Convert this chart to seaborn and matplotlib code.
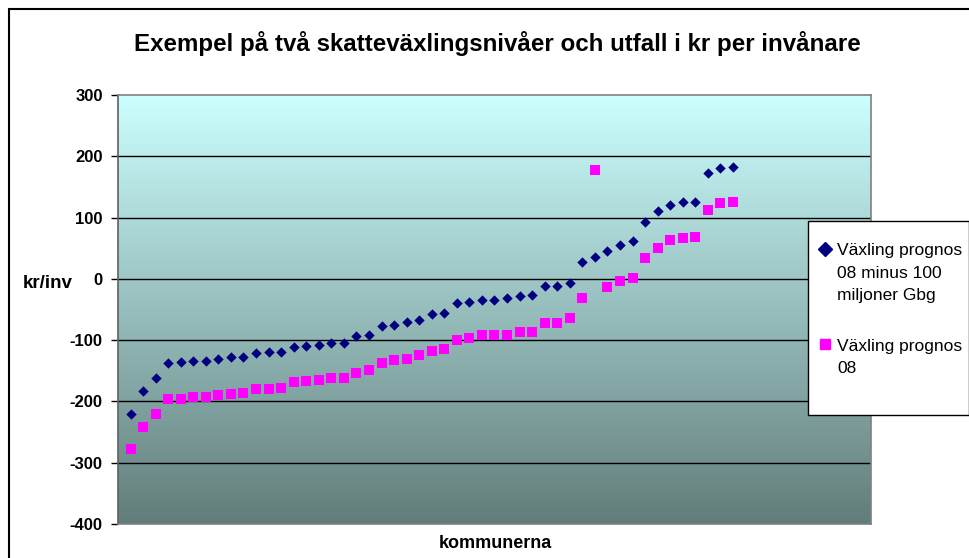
import numpy as np
import matplotlib
matplotlib.use("Agg")
import matplotlib.pyplot as plt
import seaborn as sns
from matplotlib.lines import Line2D
from matplotlib.patches import Rectangle
from matplotlib.colors import LinearSegmentedColormap

# ---------------- data ----------------
title = "Exempel på två skatteväxlingsnivåer och utfall i kr per invånare"
y_label = "kr/inv"
x_label = "kommunerna"
series_names = [["Växling prognos", "08 minus 100", "miljoner Gbg"],
                ["Växling prognos", "08"]]

minus100 = [-220, -183, -161, -138, -136, -134, -134, -130, -128, -128,
            -121, -119, -119, -112, -110, -108, -104, -104, -93, -91,
            -77, -75, -71, -67, -58, -55, -40, -37, -34, -34,
            -32, -28, -26, -12, -12, -6, 28, 35, 45, 55,
            61, 92, 110, 120, 126, 126, 173, 181, 183]

prognos08 = [-277, -241, -221, -196, -196, -193, -193, -190, -188, -186,
             -180, -180, -178, -169, -167, -165, -161, -161, -153, -149,
             -137, -133, -131, -125, -117, -114, -99, -96, -92, -92,
             -92, -86, -86, -72, -72, -64, -32, 178, -13, -3,
             1, 34, 50, 63, 66, 68, 113, 124, 126]

y_ticks = [300, 200, 100, 0, -100, -200, -300, -400]
x_limits = [0, 60]

kommun = np.arange(1, len(minus100) + 1)

# ---------------- style ----------------
sns.set_theme(style="white")
plt.rcParams['font.family'] = ['Liberation Sans', 'DejaVu Sans']

W, H = 970, 558
fig = plt.figure(figsize=(W / 100, H / 100), dpi=100)
fig.patch.set_facecolor("white")

L, R, T, B = 118, 871, 95, 524
ax = fig.add_axes([L / W, 1 - B / H, (R - L) / W, (B - T) / H])

# gradient background of the plot area
grad = np.linspace(0, 1, 256).reshape(-1, 1)
cmap = LinearSegmentedColormap.from_list("bg", ["#627D7A", "#CCFFFF"])
ax.imshow(grad, extent=[0, 1, 0, 1], transform=ax.transAxes, origin="lower",
          cmap=cmap, aspect="auto", zorder=0, interpolation="bicubic")

# gridlines
for v in y_ticks[1:-1]:
    ax.axhline(v, color="black", lw=1, zorder=1)

sns.scatterplot(x=kommun, y=prognos08, marker="s", color="#FF00FF", s=52,
                linewidth=0, ax=ax, zorder=3, legend=False)
sns.scatterplot(x=kommun, y=minus100, marker="D", color="#000080", s=28,
                linewidth=0, ax=ax, zorder=4, legend=False)

ax.set_xlim(*x_limits)
ax.set_ylim(min(y_ticks), max(y_ticks))
ax.set_yticks(y_ticks)
ax.set_yticklabels([str(v) for v in y_ticks], fontweight="bold", fontsize=12)
ax.set_xticks([])
ax.tick_params(axis="y", left=True, direction="out", length=5, width=1,
               color="black", pad=6, labelcolor="black")
for sp in ax.spines.values():
    sp.set_color("#808080")
    sp.set_linewidth(1.2)
ax.spines["left"].set_color("#606060")

ax.set_ylabel(y_label, rotation=0, fontweight="bold", fontsize=13.5,
              color="black", va="center", ha="center")
ax.yaxis.set_label_coords((48 - L) / (R - L), (B - 283) / (B - T))
ax.set_xlabel(x_label, fontweight="bold", fontsize=13, color="black", va="center")
ax.xaxis.set_label_coords((495 - L) / (R - L), (B - 543) / (B - T))

fig.text(497 / W, 1 - 44 / H, title, ha="center", va="center",
         fontweight="bold", fontsize=17.4, color="black")

# outer chart border (right/bottom fall outside the image)
fig.patches.append(Rectangle((9 / W, -0.05), 1.2, 1 - 9 / H + 0.05,
                             transform=fig.transFigure, fill=False,
                             edgecolor="black", lw=1.5, zorder=1))

# legend box
fig.patches.append(Rectangle((808 / W, 1 - 415 / H), (969 - 808) / W, (415 - 221) / H,
                             transform=fig.transFigure, facecolor="white",
                             edgecolor="black", lw=1, zorder=10))
fig.add_artist(Line2D([825 / W], [1 - 249 / H], transform=fig.transFigure,
                      marker="D", ms=7.5, color="#000080", lw=0, zorder=11))
fig.add_artist(Line2D([825 / W], [1 - 344 / H], transform=fig.transFigure,
                      marker="s", ms=7.5, color="#FF00FF", lw=0, zorder=11))
baselines = [[255, 277.5, 300], [350.5, 373]]
for lines, bls in zip(series_names, baselines):
    for line, bl in zip(lines, bls):
        fig.text(837 / W, 1 - bl / H, line, ha="left", va="baseline",
                 fontsize=12.5, color="black", zorder=11)

fig.savefig("out.png", dpi=100)
